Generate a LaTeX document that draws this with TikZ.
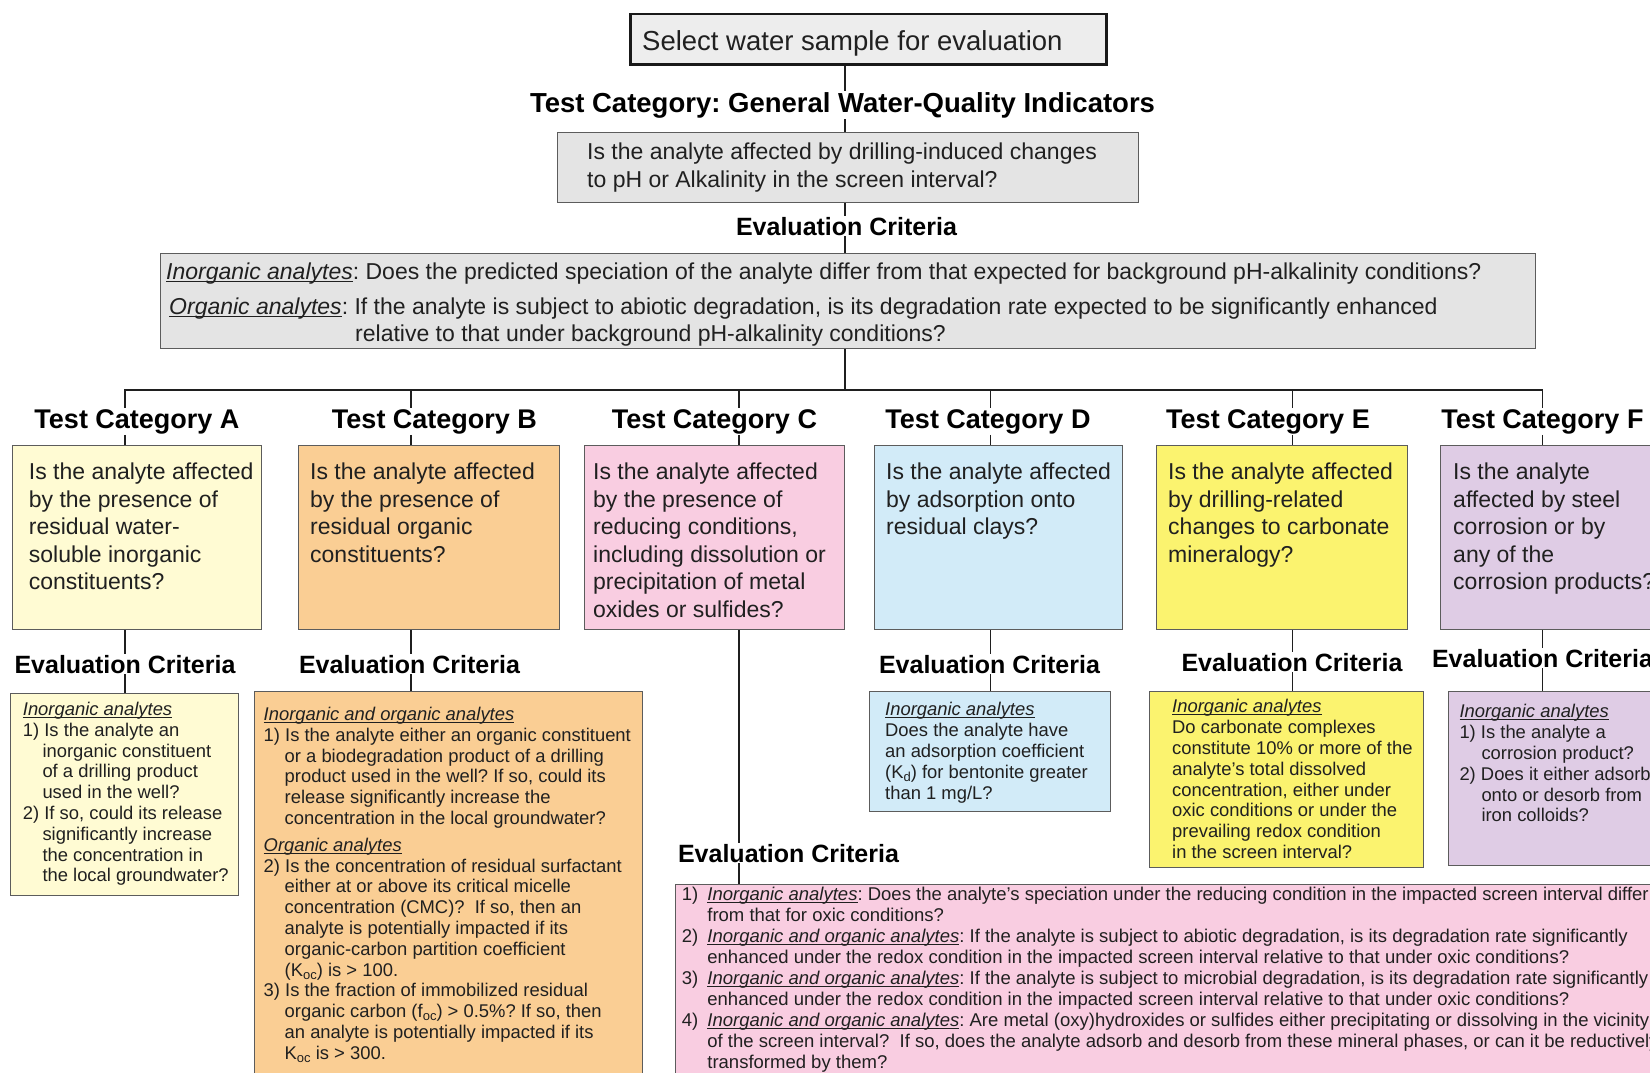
\documentclass[tikz,border=0pt]{standalone}
\usepackage{fontspec}
\setmainfont{Liberation Sans}
\frenchspacing
\newcommand\undl[1]{\underline{\raisebox{0pt}[\height][0pt]{#1}}}
\newcommand\fs[2]{\fontsize{#1}{#2}\selectfont}
\newcommand\subsc[1]{\raisebox{-0.32ex}{\fontsize{13}{13}\selectfont #1}}
\definecolor{gbox}{HTML}{E4E4E4}
\definecolor{topfill}{HTML}{EDEDED}
\definecolor{cA}{HTML}{FFFBD3}
\definecolor{cB}{HTML}{FACE94}
\definecolor{cC}{HTML}{F9CDE1}
\definecolor{cD}{HTML}{D2EBF8}
\definecolor{cE}{HTML}{FBF36F}
\definecolor{cF}{HTML}{DFCCE5}
\definecolor{bord}{HTML}{5C5C5C}
\definecolor{ink}{HTML}{202020}
\begin{document}
\begin{tikzpicture}[x=1pt,y=-1pt,
  box/.style={draw=bord, line width=1.4pt, anchor=north west, inner sep=0pt},
  txt/.style={anchor=north west, inner sep=0pt, align=left, text=ink},
  qtxt/.style={txt, font=\fs{23}{27.5}},
  etxt/.style={txt, font=\fs{18.4}{20.8}},
  ttl/.style={anchor=base, inner sep=1pt, font=\bfseries\fs{27}{32}, text=black},
  etl/.style={anchor=base, inner sep=1pt, font=\bfseries\fs{25}{30}, text=black},
  conn/.style={draw=black!88, line width=1.8pt}]
\fill[white] (0,0) rectangle (1650,1072);
\useasboundingbox (0,0) rectangle (1650,1072);

% ---------- top part ----------
\node[box, draw=black!90, line width=2.6pt, fill=topfill, minimum width=476pt, minimum height=50.5pt] (start) at (629,12.6) {};
\node[anchor=base west, inner sep=0pt, font=\fs{27.5}{33}, text=ink] (starttxt) at (642,50) {Select water sample for evaluation};

\node[ttl, font=\bfseries\fs{27.5}{33}] (gtitle) at (842.5,112) {Test Category: General Water-Quality Indicators};

\node[box, fill=gbox, minimum width=581pt, minimum height=70.5pt] (q0) at (557,131.5) {};
\node[qtxt] (q0t) at (587,142.7) {Is the analyte affected by drilling-induced changes\\to pH or Alkalinity in the screen interval?};

\node[etl] (e0) at (846.5,235) {Evaluation Criteria};

\node[box, fill=gbox, minimum width=1375pt, minimum height=95.5pt] (c0) at (160,252.5) {};
\node[qtxt] (c0t) at (166,263) {\undl{\textit{Inorganic analytes}}: Does the predicted speciation of the analyte differ from that expected for background pH-alkalinity conditions?\\[7pt]
\hspace*{3pt}\undl{\textit{Organic analytes}}: If the analyte is subject to abiotic degradation, is its degradation rate expected to be significantly enhanced\\
\hspace*{189pt}relative to that under background pH-alkalinity conditions?};

\coordinate (spine) at (845,390);
\draw[conn] (spine |- start.south) -- (spine |- gtitle.north);
\draw[conn] (spine |- gtitle.south) -- (spine |- q0.north);
\draw[conn] (spine |- q0.south) -- (spine |- e0.north);
\draw[conn] (spine |- e0.south) -- (spine |- c0.north);
\draw[conn] (spine |- c0.south) -- (spine);

% ---------- bus ----------
\coordinate (tA) at (125,390);
\coordinate (tB) at (411,390);
\coordinate (tC) at (739,390);
\coordinate (tD) at (990.5,390);
\coordinate (tE) at (1292.5,390);
\coordinate (tF) at (1542.5,390);

% ---------- category titles ----------
\node[ttl] (tAt) at (137,428) {Test Category A};
\node[ttl] (tBt) at (434.5,428) {Test Category B};
\node[ttl] (tCt) at (714.5,428) {Test Category C};
\node[ttl] (tDt) at (988,428) {Test Category D};
\node[ttl] (tEt) at (1268,428) {Test Category E};
\node[ttl] (tFt) at (1542.5,428) {Test Category F};

\draw[conn] (tA |- tAt.north) -- (tA) -- (tF) -- (tF |- tFt.north);
\draw[conn] (tB) -- (tB |- tBt.north);
\draw[conn] (tC) -- (tC |- tCt.north);
\draw[conn] (tD) -- (tD |- tDt.north);
\draw[conn] (tE) -- (tE |- tEt.north);

% ---------- category question boxes ----------
\node[box, fill=cA, minimum width=249.4pt, minimum height=184pt] (bA) at (11.6,445) {};
\node[box, fill=cB, minimum width=261pt, minimum height=184pt] (bB) at (298,445) {};
\node[box, fill=cC, minimum width=260pt, minimum height=184pt] (bC) at (584,445) {};
\node[box, fill=cD, minimum width=248pt, minimum height=184pt] (bD) at (874,445) {};
\node[box, fill=cE, minimum width=251pt, minimum height=184pt] (bE) at (1156,445) {};
\node[box, fill=cF, minimum width=260pt, minimum height=184pt] (bF) at (1440,445) {};

\node[qtxt] (bAt) at (28.7,463) {Is the analyte affected\\by the presence of\\residual water-\\soluble inorganic\\constituents?};
\node[qtxt] (bBt) at (310,463) {Is the analyte affected\\by the presence of\\residual organic\\constituents?};
\node[qtxt] (bCt) at (593,463) {Is the analyte affected\\by the presence of\\reducing conditions,\\including dissolution or\\precipitation of metal\\oxides or sulfides?};
\node[qtxt] (bDt) at (886,463) {Is the analyte affected\\by adsorption onto\\residual clays?};
\node[qtxt] (bEt) at (1168,463) {Is the analyte affected\\by drilling-related\\changes to carbonate\\mineralogy?};
\node[qtxt] (bFt) at (1453,463) {Is the analyte\\affected by steel\\corrosion or by\\any of the\\corrosion products?};

\draw[conn] (tA |- tAt.south) -- (tA |- bA.north);
\draw[conn] (tB |- tBt.south) -- (tB |- bB.north);
\draw[conn] (tC |- tCt.south) -- (tC |- bC.north);
\draw[conn] (tD |- tDt.south) -- (tD |- bD.north);
\draw[conn] (tE |- tEt.south) -- (tE |- bE.north);
\draw[conn] (tF |- tFt.south) -- (tF |- bF.north);

% ---------- evaluation titles ----------
\node[etl] (eAt) at (125,673) {Evaluation Criteria};
\node[etl] (eBt) at (409.5,673) {Evaluation Criteria};
\node[etl] (eCt) at (788.5,862) {Evaluation Criteria};
\node[etl] (eDt) at (989.5,673) {Evaluation Criteria};
\node[etl] (eEt) at (1292,671) {Evaluation Criteria};
\node[etl] (eFt) at (1542.5,667) {Evaluation Criteria};

% ---------- evaluation boxes ----------
\node[box, fill=cA, minimum width=228.5pt, minimum height=202pt] (vA) at (9.5,693) {};
\node[box, fill=cB, minimum width=388pt, minimum height=420pt] (vB) at (254,691) {};
\node[box, fill=cC, minimum width=1060pt, minimum height=250pt] (vC) at (675,884) {};
\node[box, fill=cD, minimum width=241pt, minimum height=120pt] (vD) at (869,691) {};
\node[box, fill=cE, minimum width=274pt, minimum height=176pt] (vE) at (1149,691) {};
\node[box, fill=cF, minimum width=260pt, minimum height=174pt] (vF) at (1448,691) {};

\node[etxt] (vAt) at (22.7,702) {\undl{\textit{Inorganic analytes}}\\
1) Is the analyte an\\
\hspace*{19.6pt}inorganic constituent\\
\hspace*{19.6pt}of a drilling product\\
\hspace*{19.6pt}used in the well?\\
2) If so, could its release\\
\hspace*{19.6pt}significantly increase\\
\hspace*{19.6pt}the concentration in\\
\hspace*{19.6pt}the local groundwater?};

\node[etxt] (vBt) at (263.5,707) {\undl{\textit{Inorganic and organic analytes}}\\
1) Is the analyte either an organic constituent\\
\hspace*{21pt}or a biodegradation product of a drilling\\
\hspace*{21pt}product used in the well? If so, could its\\
\hspace*{21pt}release significantly increase the\\
\hspace*{21pt}concentration in the local groundwater?\\[6pt]
\undl{\textit{Organic analytes}}\\
2) Is the concentration of residual surfactant\\
\hspace*{21pt}either at or above its critical micelle\\
\hspace*{21pt}concentration (CMC)?\ \ If so, then an\\
\hspace*{21pt}analyte is potentially impacted if its\\
\hspace*{21pt}organic-carbon partition coefficient\\
\hspace*{21pt}(K\subsc{oc}) is > 100.\\
3) Is the fraction of immobilized residual\\
\hspace*{21pt}organic carbon (f\subsc{oc}) > 0.5\%? If so, then\\
\hspace*{21pt}an analyte is potentially impacted if its\\
\hspace*{21pt}K\subsc{oc} is > 300.};

\node[txt, font=\fs{18.5}{21}] (vCt) at (681.7,887) {\makebox[25.5pt][l]{1)}\undl{\textit{Inorganic analytes}}: Does the analyte's speciation under the reducing condition in the impacted screen interval differ\\
\hspace*{25.5pt}from that for oxic conditions?\\
\makebox[25.5pt][l]{2)}\undl{\textit{Inorganic and organic analytes}}: If the analyte is subject to abiotic degradation, is its degradation rate significantly\\
\hspace*{25.5pt}enhanced under the redox condition in the impacted screen interval relative to that under oxic conditions?\\
\makebox[25.5pt][l]{3)}\undl{\textit{Inorganic and organic analytes}}: If the analyte is subject to microbial degradation, is its degradation rate significantly\\
\hspace*{25.5pt}enhanced under the redox condition in the impacted screen interval relative to that under oxic conditions?\\
\makebox[25.5pt][l]{4)}\undl{\textit{Inorganic and organic analytes}}: Are metal (oxy)hydroxides or sulfides either precipitating or dissolving in the vicinity\\
\hspace*{25.5pt}of the screen interval?\ \ If so, does the analyte adsorb and desorb from these mineral phases, or can it be reductively\\
\hspace*{25.5pt}transformed by them?};

\node[etxt] (vDt) at (885,702.4) {\undl{\textit{Inorganic analytes}}\\
Does the analyte have\\
an adsorption coefficient\\
(K\subsc{d}) for bentonite greater\\
than 1 mg/L?};

\node[etxt] (vEt) at (1172,699.4) {\undl{\textit{Inorganic analytes}}\\
Do carbonate complexes\\
constitute 10\% or more of the\\
analyte's total dissolved\\
concentration, either under\\
oxic conditions or under the\\
prevailing redox condition\\
in the screen interval?};

\node[etxt] (vFt) at (1459.3,704.4) {\undl{\textit{Inorganic analytes}}\\
1) Is the analyte a\\
\hspace*{22pt}corrosion product?\\
2) Does it either adsorb\\
\hspace*{22pt}onto or desorb from\\
\hspace*{22pt}iron colloids?};

% ---------- evaluation connectors ----------
\draw[conn] (tA |- bA.south) -- (tA |- eAt.north);
\draw[conn] (tA |- eAt.south) -- (tA |- vA.north);
\draw[conn] (tB |- bB.south) -- (tB |- eBt.north);
\draw[conn] (tB |- eBt.south) -- (tB |- vB.north);
\draw[conn] (tC |- bC.south) -- (tC |- eCt.north);
\draw[conn] (tC |- eCt.south) -- (tC |- vC.north);
\draw[conn] (tD |- bD.south) -- (tD |- eDt.north);
\draw[conn] (tD |- eDt.south) -- (tD |- vD.north);
\draw[conn] (tE |- bE.south) -- (tE |- eEt.north);
\draw[conn] (tE |- eEt.south) -- (tE |- vE.north);
\draw[conn] (tF |- bF.south) -- (tF |- eFt.north);
\draw[conn] (tF |- eFt.south) -- (tF |- vF.north);
\end{tikzpicture}
\end{document}
